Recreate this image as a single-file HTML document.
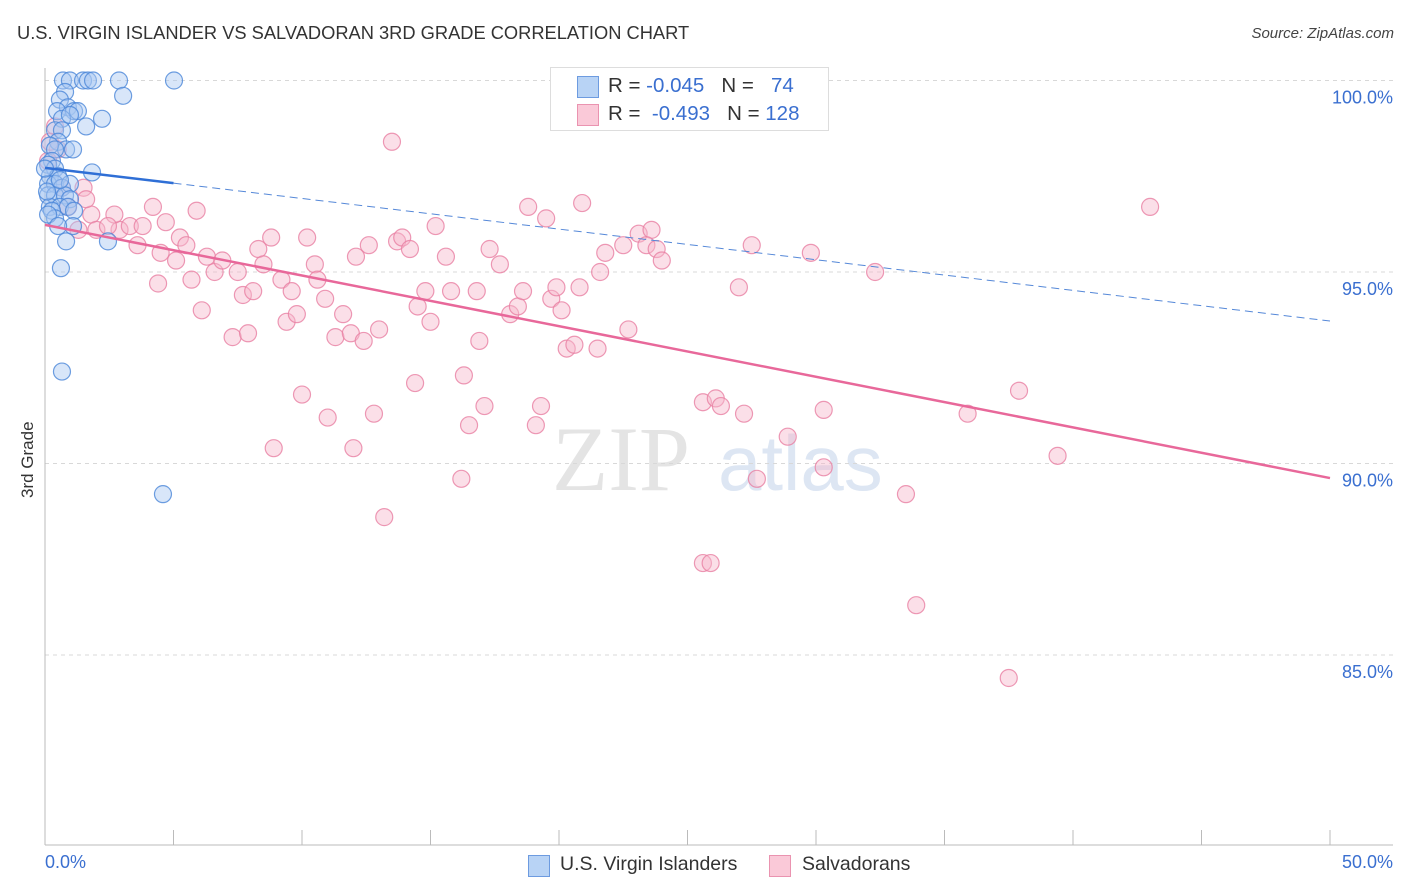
<!DOCTYPE html>
<html><head><meta charset="utf-8"><style>
body{margin:0;background:#fff;font-family:"Liberation Sans",sans-serif;}
#wrap{position:relative;width:1406px;height:892px;overflow:hidden}
.t{position:absolute;white-space:nowrap}
</style></head><body>
<div id="wrap">
<div class="t" style="left:17px;top:22px;font-size:18.3px;color:#333">U.S. VIRGIN ISLANDER VS SALVADORAN 3RD GRADE CORRELATION CHART</div>
<div class="t" style="right:12px;top:25px;font-size:15px;color:#444;font-style:italic">Source: ZipAtlas.com</div>
<svg id="svg" width="1406" height="892" style="position:absolute;left:0;top:0"></svg>
</div>
<script>
const yTicks=[100,95,90,85];
const yTickLabels=["100.0%","95.0%","90.0%","85.0%"];
const blueX=[0.70,0.97,1.48,1.67,1.87,2.88,5.02,3.04,0.78,0.58,0.89,1.13,1.28,0.47,0.66,0.97,2.22,1.60,0.39,0.66,0.51,0.82,1.09,0.19,0.39,0.27,0.12,0.39,0.19,0.51,1.83,0.12,0.39,0.66,0.97,0.12,0.39,0.78,0.97,0.19,0.58,0.89,1.13,0.27,0.39,0.12,1.09,0.51,0.82,2.45,0.62,0.66,4.59,0,0.08,0.58];
const blueY=[100,100,100,100,100,100,100,99.6,99.7,99.5,99.3,99.2,99.2,99.2,99.0,99.1,99.0,98.8,98.7,98.7,98.4,98.2,98.2,98.3,98.2,97.9,97.8,97.7,97.5,97.5,97.6,97.3,97.3,97.2,97.3,97.0,97.0,97.0,96.9,96.7,96.7,96.7,96.6,96.6,96.4,96.5,96.2,96.2,95.8,95.8,95.1,92.4,89.2,97.7,97.1,97.4];
const pinkX=[24.9,13.5,43.0,18.8,20.9,19.5,4.2,5.9,4.7,5.25,5.5,3.6,2.9,2.7,1.8,2.0,3.3,0.66,1.5,1.6,0.39,0.5,4.5,5.1,5.7,4.4,6.1,6.3,6.6,6.9,7.5,7.7,8.1,7.3,7.9,8.3,8.5,8.8,9.2,9.6,9.4,9.8,10.2,10.5,10.6,10.9,11.6,11.3,11.9,12.4,12.1,12.6,13.0,13.7,13.9,14.2,14.5,14.8,15.0,15.2,15.6,15.8,16.8,16.9,17.3,17.7,18.1,18.4,18.6,19.7,19.9,20.1,20.3,20.6,20.8,21.5,21.6,21.8,22.5,22.7,23.1,23.6,23.4,23.8,24.0,27.5,29.8,32.3,27.0,14.4,16.3,10.0,11.0,12.8,17.1,19.3,25.6,26.1,26.3,27.2,30.3,35.9,37.9,16.5,19.1,8.9,12.0,28.9,30.3,39.4,16.2,27.7,33.5,13.2,25.6,25.9,33.9,37.5,0.9,1.3,2.45,3.8,0.19,0.12];
const pinkY=[100,98.4,96.7,96.7,96.8,96.4,96.7,96.6,96.3,95.9,95.7,95.7,96.1,96.5,96.5,96.1,96.2,97.2,97.2,96.9,98.8,98.2,95.5,95.3,94.8,94.7,94.0,95.4,95.0,95.3,95.0,94.4,94.5,93.3,93.4,95.6,95.2,95.9,94.8,94.5,93.7,93.9,95.9,95.2,94.8,94.3,93.9,93.3,93.4,93.2,95.4,95.7,93.5,95.8,95.9,95.6,94.1,94.5,93.7,96.2,95.4,94.5,94.5,93.2,95.6,95.2,93.9,94.1,94.5,94.3,94.6,94.0,93.0,93.1,94.6,93.0,95.0,95.5,95.7,93.5,96.0,96.1,95.7,95.6,95.3,95.7,95.5,95.0,94.6,92.1,92.3,91.8,91.2,91.3,91.5,91.5,91.6,91.7,91.5,91.3,91.4,91.3,91.9,91.0,91.0,90.4,90.4,90.7,89.9,90.2,89.6,89.6,89.2,88.6,87.4,87.4,86.3,84.4,96.7,96.1,96.2,96.2,98.4,97.9];
const blueTrend=[97.72,93.72];
const pinkTrend=[96.23,89.62];
const X0=45,X1=1330;
const xs=v=>X0+(v/50)*(X1-X0);
const ys=v=>80.5+(100-v)*38.3;
const svg=document.getElementById('svg');
const NS='http://www.w3.org/2000/svg';
function mk(tag,attrs,parent){const e=document.createElementNS(NS,tag);for(const k in attrs)e.setAttribute(k,attrs[k]);(parent||svg).appendChild(e);return e;}
let wm=mk('text',{x:552,y:490,'font-size':92,'font-family':'Liberation Serif',fill:'#e4e4e4'});wm.textContent='ZIP';


let wm2=mk('text',{x:718,y:490,'font-size':78,'font-family':'Liberation Sans',fill:'#dde6f3'});wm2.textContent='atlas';


yTicks.forEach((t,i)=>{
 const g=mk('line',{x1:X0,x2:1393,y1:ys(t),y2:ys(t),stroke:'#d8d8d8','stroke-dasharray':'4,4'});
 
 
 const l=mk('text',{x:1393,y:ys(t)+23,'text-anchor':'end','font-size':18,fill:'#3a6fd0','font-family':'Liberation Sans'});
 l.textContent=yTickLabels[i];
 
 
});
let ax=mk('line',{x1:X0,x2:X0,y1:68,y2:845,stroke:'#bbb'});


let bx=mk('line',{x1:X0,x2:1393,y1:845,y2:845,stroke:'#bbb'});


for(let i=0;i<=10;i++){const tk=mk('line',{x1:xs(i*5),x2:xs(i*5),y1:830,y2:845,stroke:'#bbb'});
 
 }
function pts(X,Y,fill,stroke,name){X.forEach((x,i)=>{const c=mk('circle',{cx:xs(x),cy:ys(Y[i]),r:8.5,fill:fill,'fill-opacity':0.45,stroke:stroke,'stroke-width':1.2,'stroke-opacity':0.8});
 
 });}
pts(pinkX,pinkY,'#f7b8cc','#e87fa2','salvadoran-point');
pts(blueX,blueY,'#a9c8f2','#4a86d8','virgin-islander-point');
const bAt=x=>blueTrend[0]+(blueTrend[1]-blueTrend[0])*x/50;
let b1=mk('line',{x1:xs(0),y1:ys(bAt(0)),x2:xs(5),y2:ys(bAt(5)),stroke:'#2f6fd6','stroke-width':2.5});


let b2=mk('line',{x1:xs(5),y1:ys(bAt(5)),x2:xs(50),y2:ys(bAt(50)),stroke:'#5588d8','stroke-width':1,'stroke-dasharray':'8,5'});


let p1=mk('line',{x1:xs(0),y1:ys(pinkTrend[0]),x2:xs(50),y2:ys(pinkTrend[1]),stroke:'#e8689a','stroke-width':2.5});


</script>
<div class="t" style="left:18px;font-size:17px;color:#333;transform:rotate(-90deg);transform-origin:left top;top:498px">3rd Grade</div>
<div class="t" style="left:45px;top:852px;font-size:18px;color:#3a6fd0">0.0%</div>
<div class="t" style="right:13px;top:852px;font-size:18px;color:#3a6fd0">50.0%</div>
<div style="position:absolute;left:550px;top:67px;width:277px;height:62px;border:1px solid #ddd;background:#fff;font-size:20.5px;color:#333">
 <div style="position:absolute;left:26px;top:8px;width:20px;height:20px;background:#b8d3f5;border:1px solid #6d9be0"></div>
 <div class="t" style="left:57px;top:6px">R = <span style="color:#3a6fd0">-0.045</span>&nbsp;&nbsp;&nbsp;N = &nbsp;&nbsp;<span style="color:#3a6fd0">74</span></div>
 <div style="position:absolute;left:26px;top:36px;width:20px;height:20px;background:#fac9d8;border:1px solid #ea93b0"></div>
 <div class="t" style="left:57px;top:34px">R = &nbsp;<span style="color:#3a6fd0">-0.493</span>&nbsp;&nbsp;&nbsp;N = <span style="color:#3a6fd0">128</span></div>
</div>
<div style="position:absolute;left:528px;top:853px;font-size:19.5px;color:#333">
 <div style="position:absolute;left:0;top:2px;width:20px;height:20px;background:#b8d3f5;border:1px solid #6d9be0"></div>
 <div class="t" style="left:32px;top:0">U.S. Virgin Islanders</div>
 <div style="position:absolute;left:241px;top:2px;width:20px;height:20px;background:#fac9d8;border:1px solid #ea93b0"></div>
 <div class="t" style="left:274px;top:0">Salvadorans</div>
</div>
</body></html>
